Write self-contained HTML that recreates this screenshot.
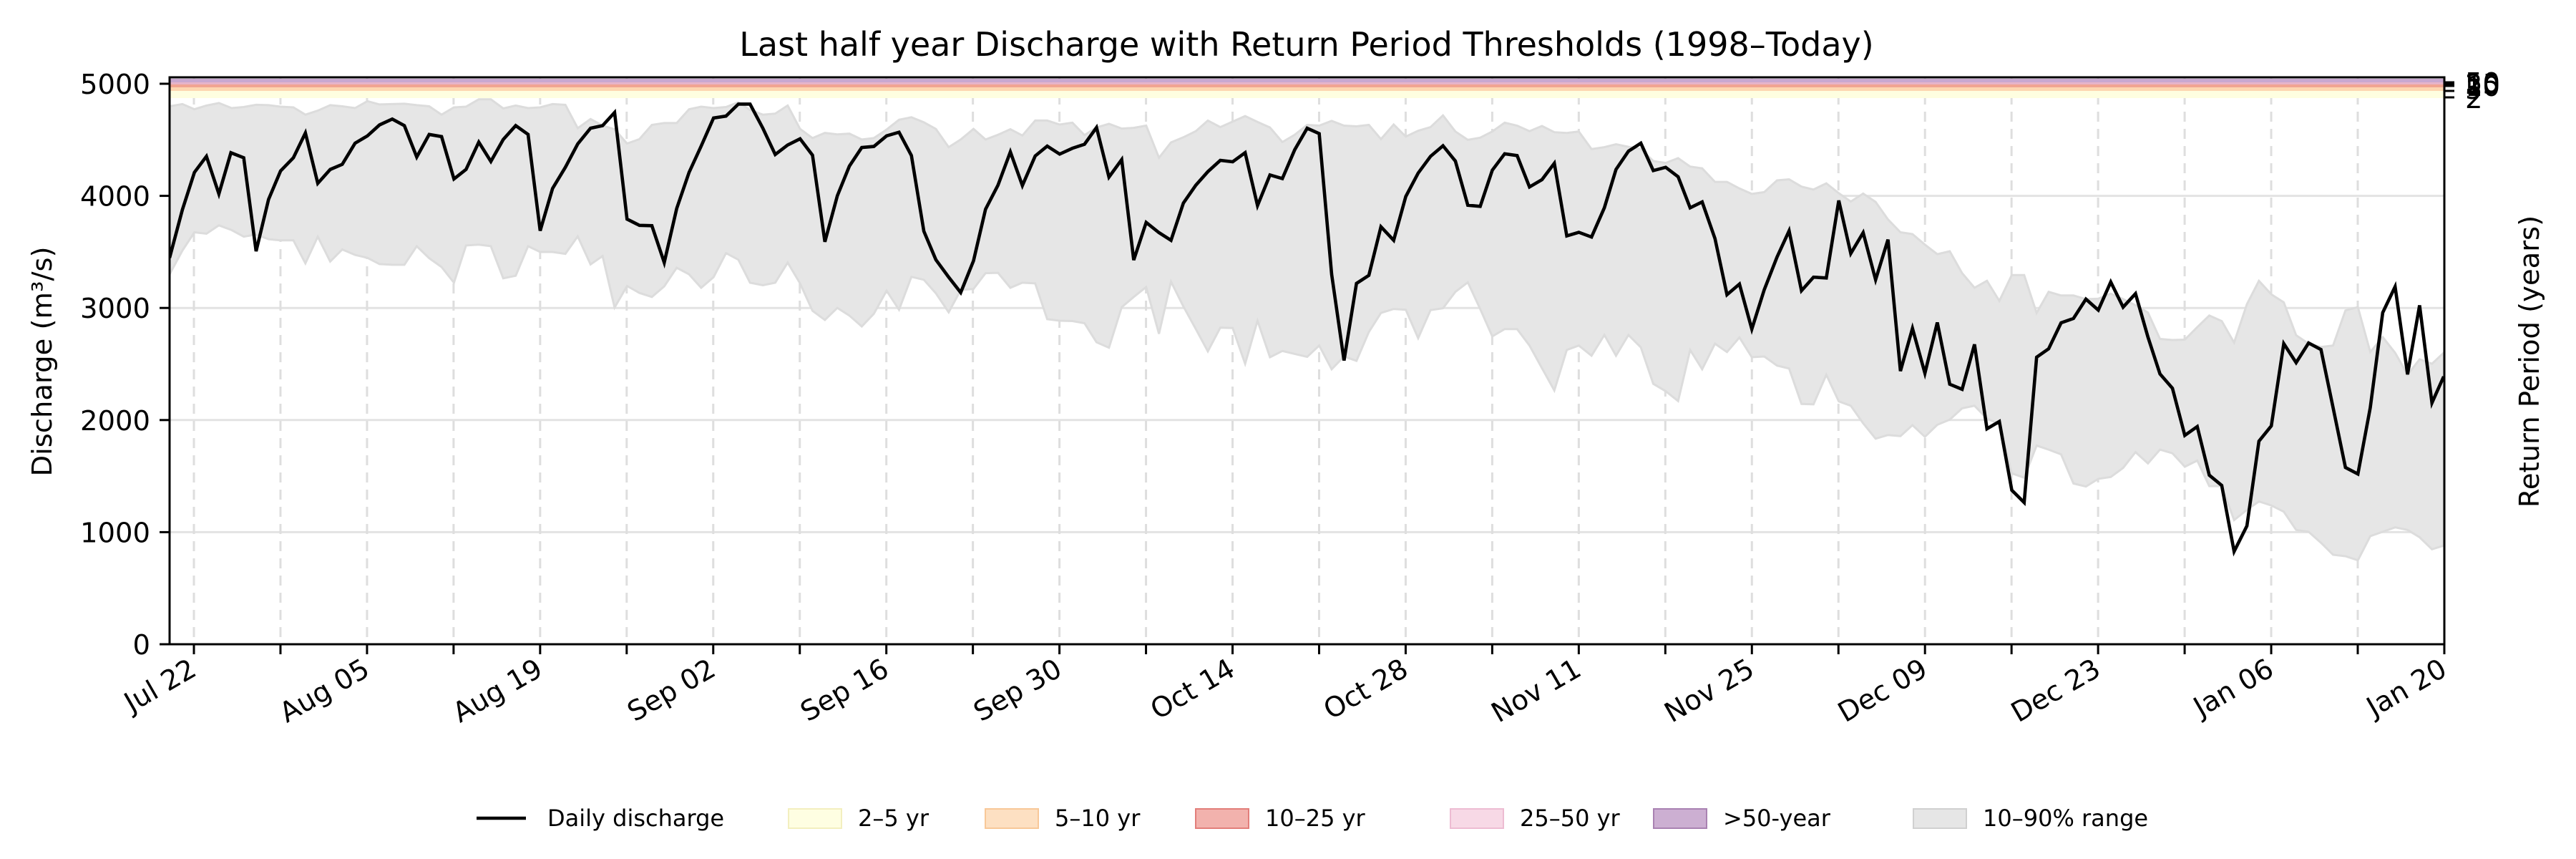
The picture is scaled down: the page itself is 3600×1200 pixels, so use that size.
<!DOCTYPE html>
<html><head><meta charset="utf-8">
<style>
html,body{margin:0;padding:0;background:#fff;}
svg{display:block;font-family:"DejaVu Sans","Liberation Sans",sans-serif;}
</style></head>
<body>
<svg id="s" width="3600" height="1200" viewBox="0 0 3600 1200" xmlns="http://www.w3.org/2000/svg">
<defs><clipPath id="c"><rect x="237" y="108" width="3179" height="792"/></clipPath></defs>
<rect width="3600" height="1200" fill="#fff"/>
<text x="1826" y="78" font-size="46" text-anchor="middle">Last half year Discharge with Return Period Thresholds (1998–Today)</text>
<g id="grid"></g>
<g clip-path="url(#c)">
<rect x="237" y="110" width="3179" height="5" fill="#c8a8d0"/>
<rect x="237" y="115" width="3179" height="3" fill="#e6b4c8"/>
<rect x="237" y="118" width="3179" height="4" fill="#f1a491"/>
<rect x="237" y="122" width="3179" height="5" fill="#fdd6b0"/>
<rect x="237" y="127" width="3179" height="10" fill="#fefee0"/>
<path id="band" fill="#e6e6e6" stroke="#dcdcdc" stroke-width="3"/>
<path id="line" fill="none" stroke="#000" stroke-width="4.6" stroke-linejoin="miter"/>
</g>
<rect x="237" y="108" width="3179" height="792" fill="none" stroke="#000" stroke-width="3"/>
<g id="ticks" font-size="38.5"></g>
<g font-size="38.5">
<line x1="3416" y1="115" x2="3430" y2="115" stroke="#000" stroke-width="3"/>
<line x1="3416" y1="117" x2="3430" y2="117" stroke="#000" stroke-width="3"/>
<line x1="3416" y1="120" x2="3430" y2="120" stroke="#000" stroke-width="3"/>
<line x1="3416" y1="127" x2="3430" y2="127" stroke="#000" stroke-width="3"/>
<line x1="3416" y1="136" x2="3430" y2="136" stroke="#000" stroke-width="3"/>
<text x="3445" y="129">50</text>
<text x="3445" y="131">25</text>
<text x="3445" y="134">10</text>
<text x="3445" y="138">5</text>
<text x="3445" y="151">2</text>
</g>
<text transform="translate(72,505) rotate(-90)" font-size="38.5" text-anchor="middle">Discharge (m³/s)</text>
<text transform="translate(3548,505) rotate(-90)" font-size="38.5" text-anchor="middle">Return Period (years)</text>
<g font-size="32">
<line x1="666" y1="1143" x2="735" y2="1143" stroke="#000" stroke-width="4.6"/>
<text x="765" y="1154">Daily discharge</text>
<rect x="1102" y="1130" width="74" height="27" fill="#fefee2" stroke="#f3efbf" stroke-width="2"/>
<text x="1199" y="1154">2–5 yr</text>
<rect x="1377" y="1130" width="74" height="27" fill="#fde0c2" stroke="#f8c898" stroke-width="2"/>
<text x="1474" y="1154">5–10 yr</text>
<rect x="1671" y="1130" width="74" height="27" fill="#f2b2ad" stroke="#e27e7a" stroke-width="2"/>
<text x="1768" y="1154">10–25 yr</text>
<rect x="2027" y="1130" width="74" height="27" fill="#f7d9e6" stroke="#edbcd2" stroke-width="2"/>
<text x="2124" y="1154">25–50 yr</text>
<rect x="2311" y="1130" width="74" height="27" fill="#ccafd2" stroke="#a982b2" stroke-width="2"/>
<text x="2408" y="1154">&gt;50-year</text>
<rect x="2674" y="1130" width="74" height="27" fill="#e6e6e6" stroke="#d0d0d0" stroke-width="2"/>
<text x="2771" y="1154">10–90% range</text>
</g>
</svg>
<script>
(function(){
var NS="http://www.w3.org/2000/svg";
function el(t,a,p,txt){var e=document.createElementNS(NS,t);for(var k in a)e.setAttribute(k,a[k]);if(txt)e.textContent=txt;p.appendChild(e);return e;}
var S=1.96;
var Z=[237,1037,1837,2637];
var L=[
[0,510,35,378,68,276,101,232,135,335,168,222,203,236,237,492,271,350,304,272,339,236,372,168,406,306,440,268,473,254,508,196,542,176,575,146,610,130,643,148,677,234,711,172,745,178,779,294,812,268,847,193,880,246,914,186,948,148,982,172,1015,436,1049,320,1084,262,1118,198,1153,155,1186,148,1219,112,1253,404,1287,421,1321,422,1355,523,1389,375,1423,276,1456,204,1490,127,1524,122,1558,89],
[22,89,57,155,91,227,125,201,159,184,193,229,227,466,261,340,294,259,328,208,361,205,396,176,430,166,464,230,498,437,531,515,566,563,599,605,634,518,667,377,701,311,735,220,768,312,803,231,836,204,870,226,905,210,938,199,971,153,1005,289,1040,241,1073,516,1107,413,1142,441,1175,462,1209,360,1243,311,1276,274,1310,243,1344,247,1378,222,1412,367,1446,283,1480,293,1514,214,1548,155],
[13,170,47,555,81,791,115,580,149,558,182,425,217,462,250,342,284,278,318,232,352,203,386,245,420,366,454,369,487,270,521,225,555,230,589,316,623,296,657,251,691,450,724,440,759,453,794,373,826,268,860,218,894,196,928,271,962,262,996,288,1029,373,1062,357,1097,457,1130,611,1164,582,1198,705,1232,597,1267,508,1300,436,1334,600,1367,563,1402,565,1436,353,1469,498,1503,441,1537,570],
[3,460,37,820,70,703,104,826,138,687,172,856,206,870,240,747,274,978,308,958,342,1146,376,1180,410,782,443,759,477,688,511,676,545,623,579,653,613,576,647,645,681,608,715,727,748,828,782,867,816,996,850,972,883,1105,917,1133,951,1314,986,1244,1019,1012,1053,970,1087,745,1121,797,1155,743,1189,761,1222,920,1256,1084,1290,1102,1324,920,1358,660,1392,589,1426,829,1459,640,1493,907,1525,835]];
var U=[
[0,95,35,89,68,103,101,93,135,86,170,100,203,97,237,91,271,92,304,96,339,98,372,118,406,107,440,92,473,95,508,100,542,81,575,90,610,89,643,88,677,92,711,95,745,118,779,98,812,96,847,76,880,76,914,101,948,93,982,100,1015,98,1049,89,1084,91,1118,155,1153,130,1186,148,1219,158,1253,197,1287,185,1321,146,1355,141,1389,141,1423,103,1456,96,1490,100,1524,97,1558,84],
[22,105,57,118,91,115,125,93,159,157,193,182,227,168,261,172,294,170,328,186,361,182,396,159,430,132,464,125,498,139,531,157,566,207,599,186,634,157,667,186,701,173,735,158,768,175,803,134,836,134,870,145,905,140,938,174,971,153,1005,143,1040,156,1073,154,1107,148,1142,236,1175,194,1209,180,1243,163,1276,134,1310,152,1344,137,1378,122,1412,138,1446,153,1480,193,1514,173,1548,146],
[13,148,47,135,81,148,115,150,149,146,182,185,217,145,250,178,284,162,318,152,352,120,386,164,420,187,454,181,487,164,521,140,555,148,589,163,623,149,657,166,691,168,724,164,759,212,794,207,826,199,860,206,894,212,928,245,962,250,996,237,1029,260,1062,265,1097,302,1130,302,1164,320,1198,335,1232,330,1267,298,1300,295,1334,315,1367,323,1402,306,1436,333,1469,356,1503,334,1537,357],
[3,405,37,440,70,445,104,474,138,500,172,492,206,552,240,592,274,573,308,628,342,557,376,557,410,661,443,603,477,613,511,613,545,623,579,622,613,608,647,623,681,640,715,660,748,732,782,735,816,734,850,700,883,668,917,683,951,742,986,637,1019,573,1053,610,1087,632,1121,722,1155,745,1189,754,1222,750,1256,654,1290,645,1324,768,1358,727,1392,770,1426,830,1459,788,1493,800,1525,770]];
var D=[
[0,555,35,490,68,440,101,444,135,421,170,434,203,452,237,446,271,459,304,462,339,462,372,525,406,452,440,520,473,487,508,502,542,510,575,527,610,529,643,529,677,478,711,511,745,535,779,578,812,476,847,474,880,478,914,566,948,559,982,478,1015,494,1049,494,1084,499,1118,451,1153,528,1186,505,1219,646,1253,587,1287,606,1321,617,1355,588,1389,537,1423,555,1456,592,1490,563,1524,497,1558,515],
[22,578,57,585,91,578,125,523,159,580,193,655,227,680,261,647,294,668,328,698,361,663,396,600,430,652,464,562,498,570,531,607,566,659,599,598,634,595,667,552,701,551,735,592,768,578,803,580,836,678,870,682,905,683,938,689,971,741,1005,756,1040,645,1073,617,1107,590,1142,718,1175,575,1209,643,1243,705,1276,766,1310,701,1344,702,1378,800,1412,682,1446,782,1480,765,1514,773,1548,781],
[13,750,47,815,81,780,115,792,149,713,182,661,217,650,250,652,284,730,318,653,352,648,386,603,420,577,454,650,487,725,521,705,555,705,589,750,623,812,657,873,691,762,724,750,759,778,794,721,826,778,860,721,894,755,928,855,962,875,996,902,1029,762,1062,815,1097,745,1130,768,1164,728,1198,782,1232,780,1267,805,1300,813,1334,910,1367,911,1402,830,1436,903,1469,915,1503,963,1537,1005],
[3,995,37,998,70,968,104,1000,138,967,172,953,206,922,240,915,274,950,308,965,342,1100,376,1112,410,1024,443,1035,477,1048,511,1128,545,1136,579,1115,613,1110,647,1085,681,1042,715,1073,748,1035,782,1045,816,1082,850,1065,883,1135,917,1135,951,1228,986,1200,1019,1177,1053,1188,1087,1205,1121,1255,1155,1260,1189,1290,1222,1323,1256,1327,1290,1338,1324,1272,1358,1260,1392,1248,1426,1255,1459,1275,1493,1308,1525,1298]];
function conv(A){var o=[];for(var k=0;k<A.length;k++){var a=A[k];for(var i=0;i<a.length;i+=2){o.push([(Z[k]+a[i]/S).toFixed(1),(100+a[i+1]/S).toFixed(1)]);}}return o;}
var l=conv(L),u=conv(U),d=conv(D).reverse();
document.getElementById('line').setAttribute('d','M'+l.map(function(p){return p.join(',')}).join('L'));
document.getElementById('band').setAttribute('d','M'+u.concat(d).map(function(p){return p.join(',')}).join('L')+'Z');
var g=document.getElementById('grid'),t=document.getElementById('ticks');
for(var v=1;v<=4;v++){var y=900-v*156.6;el('line',{x1:237,x2:3416,y1:y,y2:y,stroke:'#e3e3e3','stroke-width':3},g);}
var yl=['0','1000','2000','3000','4000','5000'];
for(var v=0;v<=5;v++){var y=900-v*156.6;el('line',{x1:223,x2:237,y1:y,y2:y,stroke:'#000','stroke-width':3},t);el('text',{x:210,y:y+14,'text-anchor':'end'},t,yl[v]);}
var xl=['Jul 22','Aug 05','Aug 19','Sep 02','Sep 16','Sep 30','Oct 14','Oct 28','Nov 11','Nov 25','Dec 09','Dec 23','Jan 06','Jan 20'];
for(var j=0;j<27;j++){var x=271+j*120.96;
el('line',{x1:x,x2:x,y1:108,y2:900,stroke:'#dedede','stroke-width':3,'stroke-dasharray':'14,10'},g);
el('line',{x1:x,x2:x,y1:900,y2:914,stroke:'#000','stroke-width':3},t);
if(j%2==0){el('text',{transform:'translate('+(x+6)+',942) rotate(-30)','text-anchor':'end'},t,xl[j/2]);}}
})();
</script>
</body></html>
